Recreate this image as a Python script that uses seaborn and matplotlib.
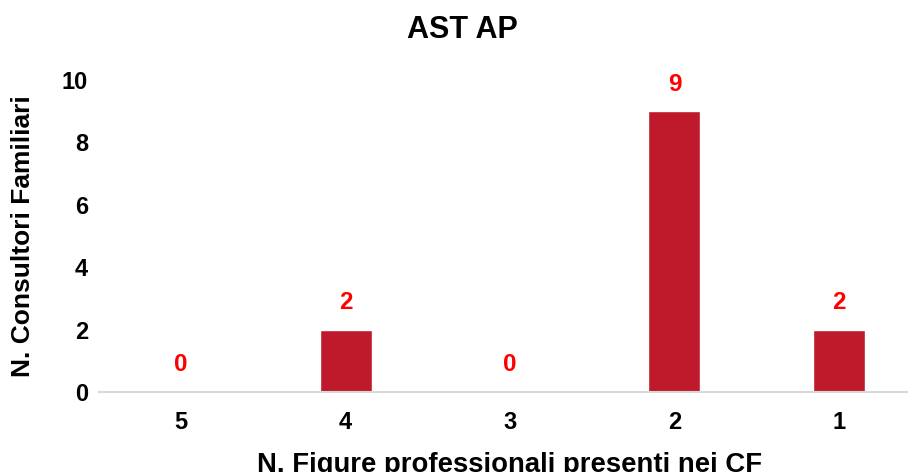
import matplotlib
matplotlib.use("Agg")
import matplotlib.pyplot as plt
import seaborn as sns
import pandas as pd

# dati
categorie = ["5", "4", "3", "2", "1"]
valori = [0, 2, 0, 9, 2]

df = pd.DataFrame({"figure": categorie, "cf": valori})

sns.set_style("white")
plt.rcParams["font.family"] = ["Liberation Sans", "DejaVu Sans"]
plt.rcParams["font.weight"] = "bold"
plt.rcParams["text.color"] = "black"
plt.rcParams["axes.labelcolor"] = "black"
plt.rcParams["xtick.color"] = "black"
plt.rcParams["ytick.color"] = "black"

fig = plt.figure(figsize=(9.08, 4.72), dpi=100)
ax = fig.add_axes([99 / 908, 1 - 392 / 472, 822 / 908, 312 / 472])

sns.barplot(data=df, x="figure", y="cf", color="#BE1A2C", width=0.316,
            saturation=1, ax=ax)

for i, v in enumerate(valori):
    ax.text(i, v + 0.5, str(v), ha="center", va="bottom", color="#FF0000",
            fontsize=17.5, fontweight="bold")

ax.set_ylim(0, 10)
ax.set_yticks(range(0, 11, 2))
ax.tick_params(axis="x", length=0, labelsize=17, pad=14)
ax.tick_params(axis="y", length=0, labelsize=17, pad=8)
for lab in ax.get_xticklabels() + ax.get_yticklabels():
    lab.set_fontweight("bold")

for s in ["top", "right", "left"]:
    ax.spines[s].set_visible(False)
ax.spines["bottom"].set_color("#D9D9D9")
ax.spines["bottom"].set_linewidth(1.5)

ax.set_xlabel("N. Figure professionali presenti nei CF", fontsize=19.8,
              fontweight="bold", labelpad=13)
ax.set_ylabel("N. Consultori Familiari", fontsize=19, fontweight="bold",
              labelpad=19)
fig.text(462 / 908, 1 - 30 / 472, "AST AP", ha="center", va="center",
         fontsize=22, fontweight="bold")

fig.savefig("out.png", dpi=100)
